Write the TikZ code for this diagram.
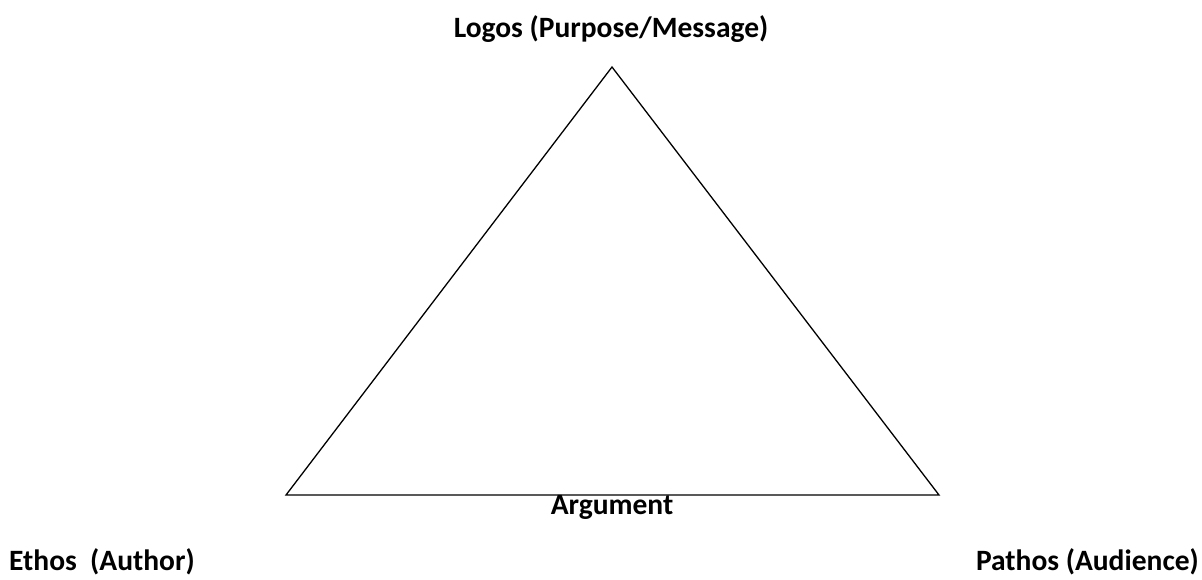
\documentclass[tikz,border=0pt]{standalone}
\usepackage{fontspec}
\setmainfont{Carlito}
\begin{document}
\begin{tikzpicture}[x=1pt,y=-1pt,
  lbl/.style={font=\fontsize{29.5}{34}\selectfont\bfseries, inner sep=0pt},
  tri/.style={draw=black, line width=1.3pt, line join=miter}]
\useasboundingbox[fill=white] (0,0) rectangle (1202,579);
\coordinate (top) at (612,67);
\coordinate (bl) at (286,495);
\coordinate (br) at (939,495);
\draw[tri] (top) -- (bl) -- (br) -- cycle;
\node[lbl, anchor=base] (logos) at (611,37) {Logos (Purpose/Message)};
\node[lbl, anchor=base] (arg) at (612,514) {Argument};
\node[lbl, anchor=base west] (ethos) at (9,570) {Ethos\ \ (Author)};
\node[lbl, anchor=base east] (pathos) at (1199,570) {Pathos (Audience)};
\end{tikzpicture}
\end{document}
